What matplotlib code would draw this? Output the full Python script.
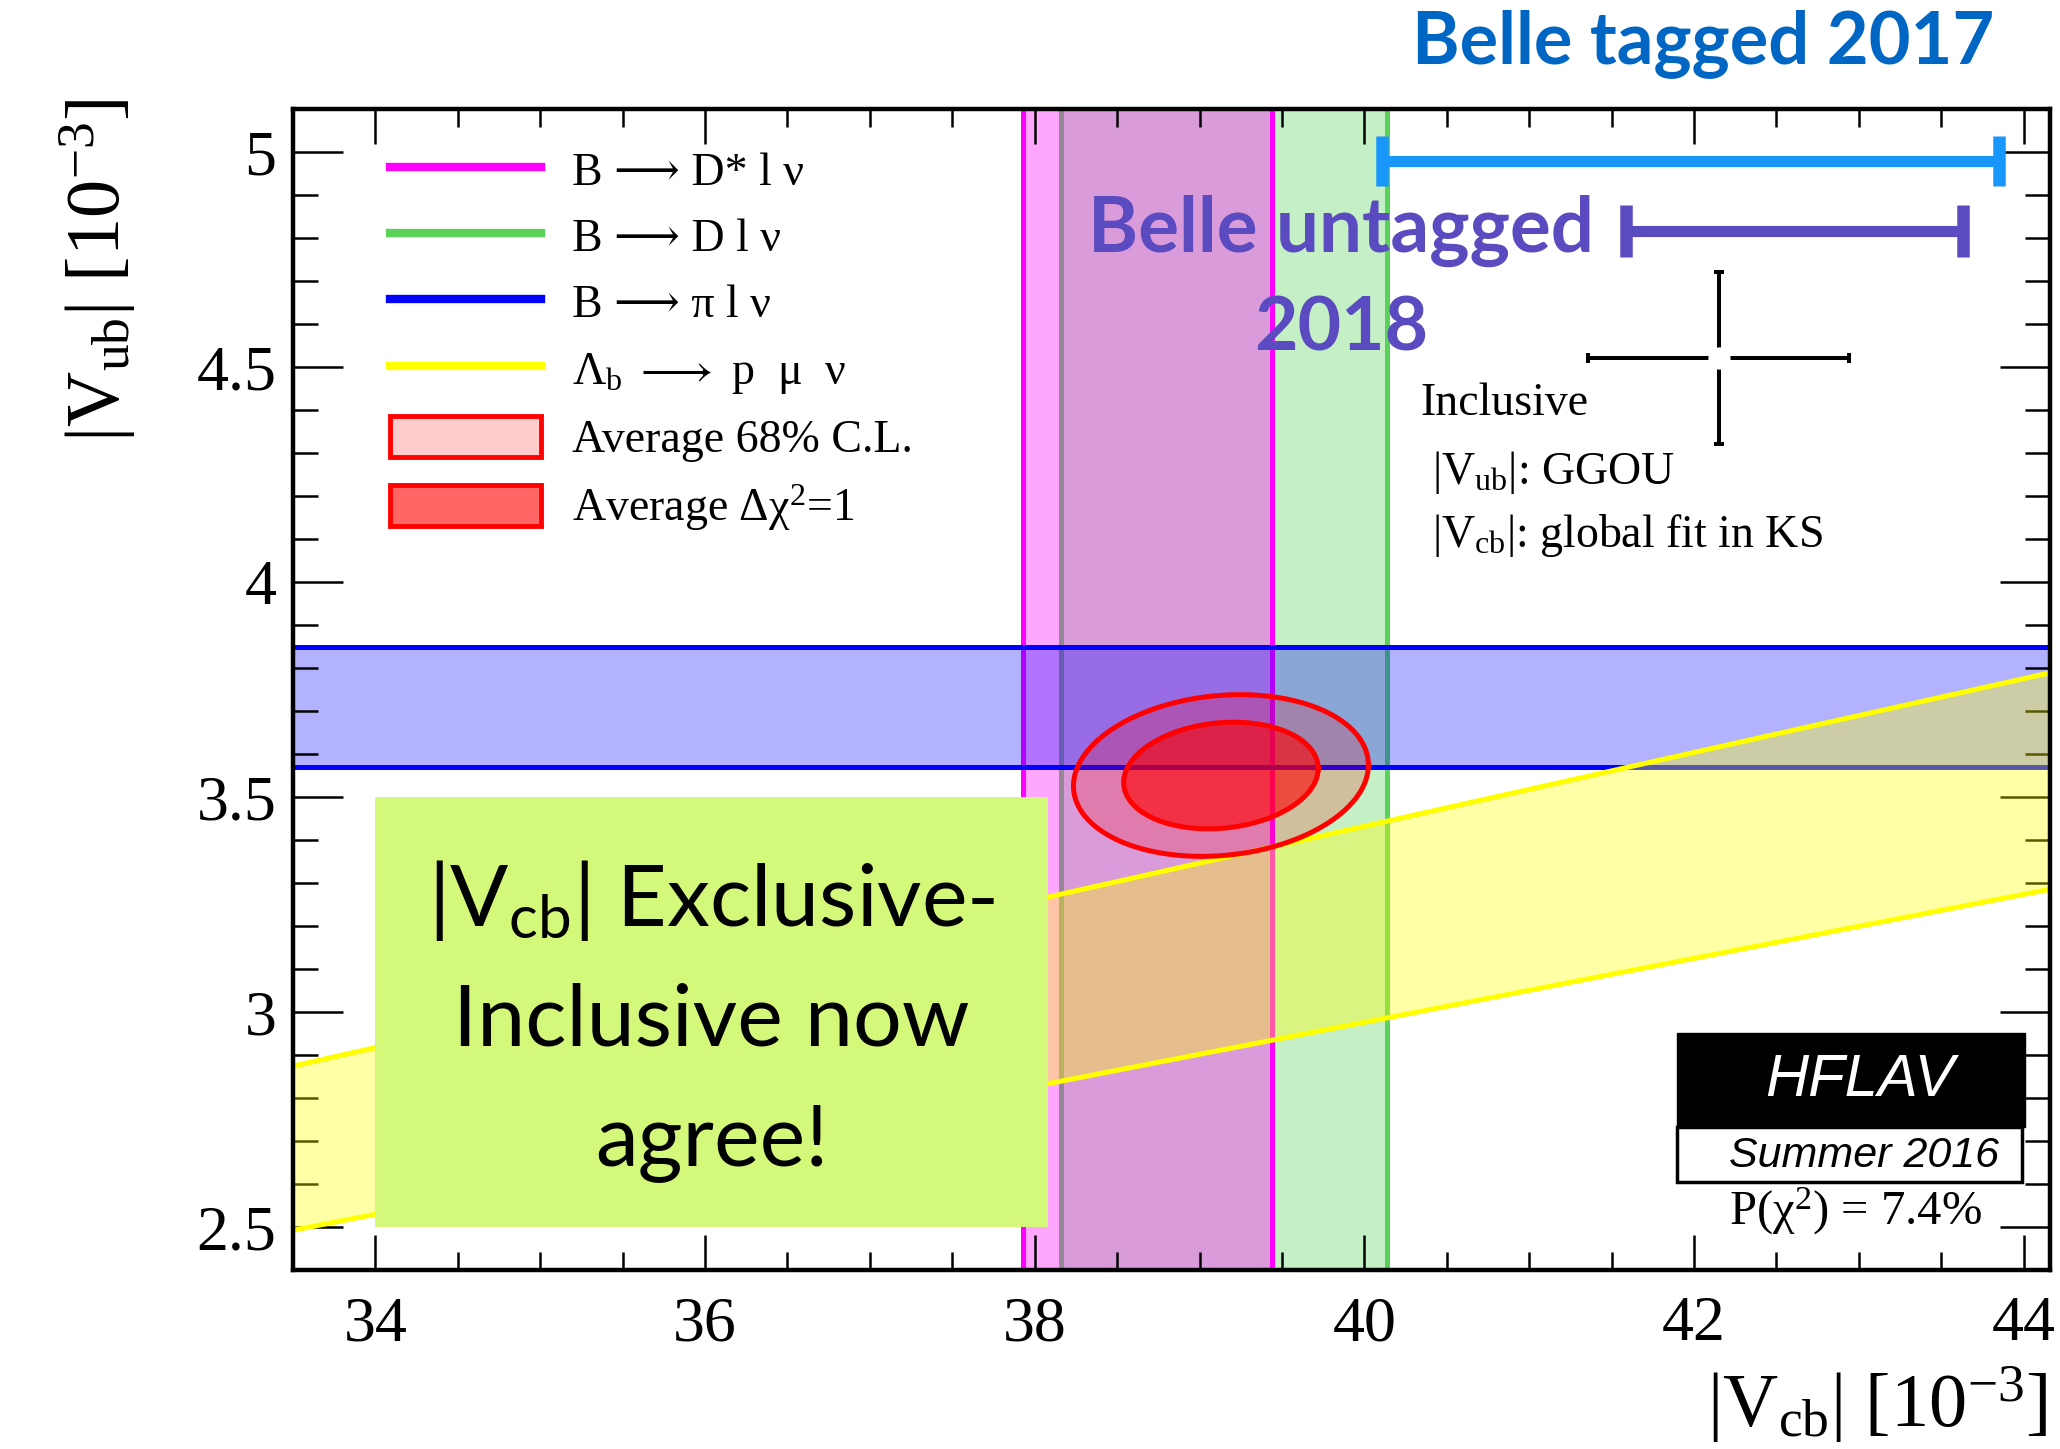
import numpy as np
import matplotlib
matplotlib.use('Agg')
import matplotlib.pyplot as plt
from matplotlib.lines import Line2D
from matplotlib.patches import Patch, Rectangle
from matplotlib.ticker import MultipleLocator, FixedLocator

plt.rcParams['font.family'] = ['Liberation Serif', 'DejaVu Serif', 'DejaVu Sans']
plt.rcParams['mathtext.fontset'] = 'custom'
plt.rcParams['mathtext.rm'] = 'Liberation Serif'
plt.rcParams['mathtext.it'] = 'Liberation Serif:italic'
plt.rcParams['mathtext.sf'] = 'Lato'
plt.rcParams['mathtext.fallback'] = 'stix'

# exclusive |Vcb| bands [1e-3]
dstar_vcb = [37.93, 39.44]     # B -> D* l nu
d_vcb = [38.16, 40.14]         # B -> D l nu
# exclusive |Vub| band [1e-3]
pi_vub = [3.57, 3.85]          # B -> pi l nu
# Lambda_b -> p mu nu : |Vub|/|Vcb|
lamb_ratio = 0.0801
lamb_ratio_err = 0.0057

# combined exclusive average
avg_vcb, avg_vcb_err = 39.13, 0.59
avg_vub, avg_vub_err = 3.55, 0.124
avg_rho = 0.13
avg_pchi2 = 7.4

# inclusive point (GGOU / kinetic scheme)
incl_vcb, incl_vcb_err = 42.15, 0.79
incl_vub, incl_vub_err = 4.52, 0.20

# recent Belle |Vcb| results (value, error)
belle_tagged = [41.98, 1.87]
belle_untagged = [42.61, 1.02]

xlim = (33.5, 44.16)
ylim = (2.4, 5.1)

fig = plt.figure(figsize=(20.6, 14.49), dpi=100)
ax = fig.add_axes([0.14223, 0.12353, 0.85291, 0.80124])
ax.set_xlim(*xlim)
ax.set_ylim(*ylim)

MAG = (1, 0, 1)
GRN = (90/255, 210/255, 90/255)
BLU = (0, 0, 1)
YEL = (1, 1, 0)
band_lw = 3.6

# B -> D l nu
ax.axvspan(*d_vcb, color=GRN, alpha=0.35, lw=0, zorder=1.0)
for v in d_vcb:
    ax.axvline(v, color=GRN, lw=band_lw, zorder=1.1)

# B -> D* l nu
ax.axvspan(*dstar_vcb, color=MAG, alpha=0.35, lw=0, zorder=1.2)
for v in dstar_vcb:
    ax.axvline(v, color=MAG, lw=band_lw, zorder=1.3)

# B -> pi l nu
ax.axhspan(*pi_vub, color=BLU, alpha=0.3, lw=0, zorder=1.4)
for v in pi_vub:
    ax.axhline(v, color=BLU, lw=band_lw, zorder=1.5)

# Lambda_b band: straight lines through the origin
xx = np.array(xlim)
lo = (lamb_ratio - lamb_ratio_err) * xx
hi = (lamb_ratio + lamb_ratio_err) * xx
ax.fill_between(xx, lo, hi, color=YEL, alpha=0.35, lw=0, zorder=1.6)
ax.plot(xx, lo, color=YEL, lw=band_lw, zorder=1.7)
ax.plot(xx, hi, color=YEL, lw=band_lw, zorder=1.7)

# callout box
ax.add_patch(Rectangle((34.0, 2.5), 4.08, 1.0, facecolor='#d4f87a',
                       edgecolor='none', zorder=5))
box_kw = dict(ha='center', va='baseline', fontsize=62, family='Lato',
              color='black', zorder=5.5)
ax.text(36.04, 3.200, r'|V$_{\mathsf{cb}}$| Exclusive-', **box_kw)
ax.text(36.04, 2.921, 'Inclusive now', **box_kw)
ax.text(36.04, 2.643, 'agree!', **box_kw)


def cov_ellipse(dchi2, n=400):
    t = np.linspace(0, 2 * np.pi, n)
    cov = np.array([[avg_vcb_err**2, avg_rho * avg_vcb_err * avg_vub_err],
                    [avg_rho * avg_vcb_err * avg_vub_err, avg_vub_err**2]])
    L = np.linalg.cholesky(cov)
    pts = L @ np.vstack([np.cos(t), np.sin(t)]) * np.sqrt(dchi2)
    return avg_vcb + pts[0], avg_vub + pts[1]


ex, ey = cov_ellipse(2.30)
ax.fill(ex, ey, color=(1, 0, 0, 0.2), lw=0, zorder=6)
ax.plot(ex, ey, color='red', lw=3.6, zorder=6.1)
ex, ey = cov_ellipse(1.0)
ax.fill(ex, ey, color=(1, 0, 0, 0.6), lw=0, zorder=6.2)
ax.plot(ex, ey, color='red', lw=3.6, zorder=6.3)

# inclusive cross
ax.errorbar(incl_vcb, incl_vub, xerr=incl_vcb_err, yerr=incl_vub_err,
            fmt='o', color='black', mfc='white', mec='white', ms=15,
            elinewidth=2.9, capsize=3.5, capthick=2.9, zorder=7)

# Belle bars
ax.errorbar(belle_tagged[0], 4.98, xerr=belle_tagged[1], fmt='none',
            ecolor='#1896fa', elinewidth=8, capsize=18, capthick=9, zorder=7)
ax.errorbar(belle_untagged[0], 4.817, xerr=belle_untagged[1], fmt='none',
            ecolor='#5a4bc0', elinewidth=8, capsize=19, capthick=9, zorder=7)

purple = '#5a4bc0'
ax.text(39.86, 4.817, 'Belle untagged', ha='center', va='center',
        fontsize=55, family='Lato', weight='bold', color=purple, zorder=8)
ax.text(39.86, 4.588, '2018', ha='center', va='center',
        fontsize=54, family='Lato', weight='bold', color=purple, zorder=8)
fig.text(0.8267, 0.970, 'Belle tagged 2017', ha='center', va='center',
         fontsize=52, family='Lato', weight='bold', color='#0066c4')

# inclusive annotation
ax.text(0.6414, 0.7460, 'Inclusive', transform=ax.transAxes,
        ha='left', va='center', fontsize=33)
ax.text(0.648, 0.6865, r'|V$_{\mathrm{ub}}$|: GGOU', transform=ax.transAxes,
        ha='left', va='center', fontsize=33)
ax.text(0.648, 0.633, r'|V$_{\mathrm{cb}}$|: global fit in KS',
        transform=ax.transAxes, ha='left', va='center', fontsize=33)

# HFLAV logo
ax.add_patch(Rectangle((0.7877, 0.1232), 0.1981, 0.0809, transform=ax.transAxes,
                       facecolor='black', edgecolor='black', lw=1, zorder=9))
ax.add_patch(Rectangle((0.7877, 0.0758), 0.1963, 0.0474, transform=ax.transAxes,
                       facecolor='white', edgecolor='black', lw=2.5, zorder=9))
ax.text(0.892, 0.1628, 'HFLAV', transform=ax.transAxes, ha='center',
        va='center', fontsize=43, family='Liberation Sans', style='italic',
        color='white', zorder=10)
ax.text(0.894, 0.098, 'Summer 2016', transform=ax.transAxes, ha='center',
        va='center', fontsize=31, family='Liberation Sans', style='italic',
        color='black', zorder=10)
ax.text(0.889, 0.051, 'P(χ$^{2}$) = %.1f%%' % avg_pchi2,
        transform=ax.transAxes, ha='center', va='center', fontsize=35,
        zorder=10)

# legend
handles = [
    Line2D([], [], color=MAG, lw=6),
    Line2D([], [], color=GRN, lw=6),
    Line2D([], [], color=BLU, lw=6),
    Line2D([], [], color=YEL, lw=6),
    Patch(facecolor=(1, 0, 0, 0.2), edgecolor='red', lw=3.5),
    Patch(facecolor=(1, 0, 0, 0.6), edgecolor='red', lw=3.5),
]
labels = [
    'B ⟶ D* l ν',
    'B ⟶ D l ν',
    'B ⟶ π l ν',
    r'Λ$_{\mathrm{b}}$ $\longrightarrow$ p  μ  ν',
    'Average 68% C.L.',
    r'Average Δχ$^{2}$=1',
]
leg = ax.legend(handles, labels, loc='upper left', bbox_to_anchor=(0.0552, 0.966),
                frameon=False, fontsize=33, handlelength=3.3, handleheight=1.0,
                handletextpad=0.68, labelspacing=0.44, borderpad=0,
                borderaxespad=0)
leg.set_zorder(10)

# axes styling
for s in ax.spines.values():
    s.set_linewidth(3.2)
    s.set_zorder(11)
ax.xaxis.set_major_locator(FixedLocator([34, 36, 38, 40, 42, 44]))
ax.xaxis.set_minor_locator(MultipleLocator(0.5))
ax.yaxis.set_major_locator(FixedLocator([2.5, 3, 3.5, 4, 4.5, 5]))
ax.yaxis.set_minor_locator(MultipleLocator(0.1))
ax.set_yticklabels(['2.5', '3', '3.5', '4', '4.5', '5'])
ax.tick_params(axis='x', which='major', direction='in', length=25, width=1.8,
               top=True, bottom=True, labelsize=46, pad=19)
ax.tick_params(axis='x', which='minor', direction='in', length=13, width=1.8,
               top=True, bottom=True)
ax.tick_params(axis='y', which='major', direction='in', length=36, width=1.8,
               left=True, right=True, labelsize=46, pad=12)
ax.tick_params(axis='y', which='minor', direction='in', length=18, width=1.8,
               left=True, right=True)

fig.text(2047 / 2060, 0.003, r'|V$_{\mathrm{cb}}$| [10$^{\mathrm{-3}}$]',
         ha='right', va='bottom', fontsize=55)
fig.text(98 / 2060, 1 - 99 / 1449, r'|V$_{\mathrm{ub}}$| [10$^{\mathrm{-3}}$]',
         ha='center', va='top', rotation=90, fontsize=55)

fig.savefig('out.png', dpi=100)
